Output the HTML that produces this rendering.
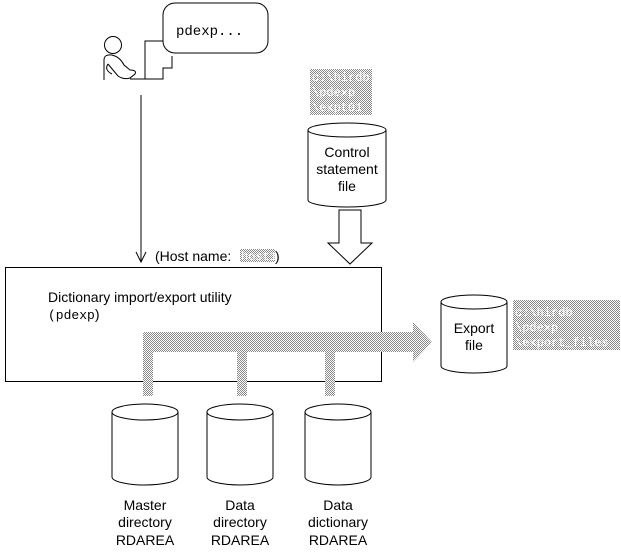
<!DOCTYPE html>
<html><head><meta charset="utf-8"><style>
html,body{margin:0;padding:0;background:#fff;}
svg{display:block;}
text{font-family:"Liberation Sans",sans-serif;font-size:14px;fill:#000;}
.m{font-family:"Liberation Mono",monospace;}
.s{font-family:"Liberation Mono",monospace;font-size:12px;fill:#fff;}
</style></head><body>
<svg width="621" height="552" viewBox="0 0 621 552" xmlns="http://www.w3.org/2000/svg">
<defs>
<pattern id="d" width="2" height="2" patternUnits="userSpaceOnUse">
<rect width="2" height="2" fill="#fff"/>
<rect x="0" y="0" width="1" height="1" fill="#888"/>
<rect x="1" y="1" width="1" height="1" fill="#888"/>
</pattern>
</defs>
<g fill="none" stroke="#000" stroke-width="1">
<circle cx="113" cy="45" r="8.5"/>
<path d="M104,80 L104,60 Q104,54 112,55 Q120,57 124,65 L130,70 Q137,70 135,74 L130,78 Q124,80 118,76 L108,64"/>
<path d="M108,64 Q104,70 112,74" />
<path d="M130,79 L163,79 L163,68 L172,68 L172,56"/>
<path d="M145,79 L145,41 L163,41"/>
<rect x="163" y="3" width="105" height="50" rx="12" fill="#fff"/>
<line x1="141" y1="95" x2="141" y2="262"/>
<path d="M136,252 L141,262 L146,252"/>
<rect x="5.5" y="267.5" width="376" height="114"/>
<path d="M308,130 L308,200 A39,7 0 0 0 386,200 L386,130"/>
<ellipse cx="347" cy="130" rx="39" ry="7"/>
<path d="M339,210 L361,210 L361,243 L372,243 L350,264 L328,243 L339,243 Z" fill="#fff"/>
<path d="M441,302 L441,366 A33,7 0 0 0 507,366 L507,302"/>
<ellipse cx="474" cy="302" rx="33" ry="7"/>
<path d="M112,412 L112,477 A33,8 0 0 0 178,477 L178,412"/>
<ellipse cx="145" cy="412" rx="33" ry="8"/>
<path d="M207,412 L207,477 A33,8 0 0 0 273,477 L273,412"/>
<ellipse cx="240" cy="412" rx="33" ry="8"/>
<path d="M305,412 L305,477 A33,8 0 0 0 371,477 L371,412"/>
<ellipse cx="338" cy="412" rx="33" ry="8"/>
</g>
<g fill="url(#d)">
<rect x="310" y="69" width="62" height="46"/>
<rect x="513" y="300" width="107" height="50"/>
<path d="M143,332 L413,332 L413,322 L432,342 L413,362 L413,352 L153,352 L153,396 L143,396 Z"/>
<rect x="237" y="340" width="10" height="56"/>
<rect x="325" y="340" width="10" height="56"/>
<rect x="240" y="249" width="35" height="13"/>
</g>
<text class="s" x="312" y="81">c:\hirdb</text>
<text class="s" x="312" y="96">\pdexp</text>
<text class="s" x="312" y="111">\expt01</text>
<text class="s" x="515" y="316">c:\hirdb</text>
<text class="s" x="515" y="331">\pdexp</text>
<text class="s" x="515" y="346">\export_files</text>
<text class="s" x="241" y="260">host1</text>
<text x="176" y="35" class="m" font-size="13">pdexp...</text>
<text x="347" y="157" text-anchor="middle">Control</text>
<text x="347" y="174" text-anchor="middle">statement</text>
<text x="347" y="191" text-anchor="middle">file</text>
<text x="155" y="261">(Host name: </text>
<text x="275" y="261">)</text>
<text x="48" y="302">Dictionary import/export utility</text>
<text x="48" y="319"><tspan class="m" font-size="13">(pdexp</tspan>)</text>
<text x="474" y="333" text-anchor="middle">Export</text>
<text x="474" y="350" text-anchor="middle">file</text>
<text x="145" y="510" text-anchor="middle">Master</text>
<text x="145" y="527" text-anchor="middle">directory</text>
<text x="145" y="545" text-anchor="middle">RDAREA</text>
<text x="240" y="510" text-anchor="middle">Data</text>
<text x="240" y="527" text-anchor="middle">directory</text>
<text x="240" y="545" text-anchor="middle">RDAREA</text>
<text x="338" y="510" text-anchor="middle">Data</text>
<text x="338" y="527" text-anchor="middle">dictionary</text>
<text x="338" y="545" text-anchor="middle">RDAREA</text>
</svg>
</body></html>
